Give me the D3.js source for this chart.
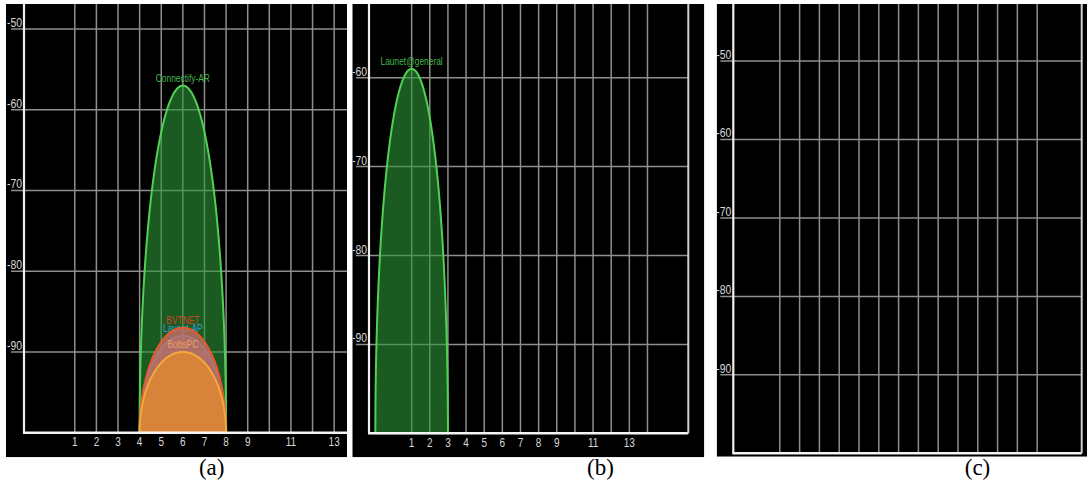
<!DOCTYPE html>
<html><head><meta charset="utf-8">
<script src="https://cdn.jsdelivr.net/npm/d3@7"></script>
<style>
html,body{margin:0;padding:0;background:#fff;}
svg{display:block;}
</style></head>
<body>
<svg id="c" width="1087" height="491"></svg>
<script>
// ---------- data ----------
const gridChannels = [1,2,3,4,5,6,7,8,9,10,11,12,13,14];
const xTickLabels = [1,2,3,4,5,6,7,8,9,11,13];
const yTicks = [-90,-80,-70,-60,-50];
const panelLabels = ["(a)","(b)","(c)"];
const channelSpan = 2; // +/- channels covered by a 20 MHz network

// panel (a) networks (drawn in this order)
const netA_names    = ["Connectify-AR","Launet-AP","BVTNET","BobsPC"];
const netA_channels = [6,6,6,6];
const netA_levels   = [-57,-88,-87,-90];
// panel (b) networks
const netB_names    = ["Launet@general"];
const netB_channels = [1];
const netB_levels   = [-59];
// panel (c): no networks
const netC_names = [], netC_channels = [], netC_levels = [];

// ---------- styles ----------
const netStyle = {
  "Connectify-AR": {stroke:"#4fd152", fill:"rgba(45,150,55,0.6)", text:"#43b84b"},
  "Launet-AP":     {stroke:"#35a0d8", fill:"rgba(120,120,180,0.5)", text:"#2fa2d6"},
  "BVTNET":        {stroke:"#e8582c", fill:"rgba(200,110,100,0.8)", text:"#d8432a"},
  "BobsPC":        {stroke:"#f5a83a", fill:"rgba(218,132,56,0.96)", text:"#eda06a"},
  "Launet@general":{stroke:"#4fd152", fill:"rgba(45,150,55,0.6)", text:"#43b84b"}
};

const xDomain = [-1.35, 16.25];
const panels = [
  {bg:[6,4,347,457.3], xr:[24,404.4], ydom:[-100,-50], yr:[432.7,29], xLabels:true, border:false,
   names:netA_names, chans:netA_channels, levels:netA_levels, label:[211.7,475]},
  {bg:[352.3,4,704.3,457.3], xr:[369,688.3], ydom:[-100,-60], yr:[433.3,77.7], xLabels:true, border:true,
   names:netB_names, chans:netB_channels, levels:netB_levels, label:[600.5,475]},
  {bg:[716.7,4,1087,456.7], xr:[733.3,1081.7], ydom:[-100,-50], yr:[453.3,61], xLabels:false, border:true,
   names:netC_names, chans:netC_channels, levels:netC_levels, label:[977.5,475]}
];

const svg = d3.select("#c");
const sansFont = "'Liberation Sans',Arial,sans-serif";
const narrow = 0.8;

function narrowText(sel, x, y, size, color, anchor, txt){
  return sel.append("text")
    .attr("transform",`translate(${x},${y}) scale(${narrow},1)`)
    .attr("text-anchor",anchor).attr("font-family",sansFont).attr("font-size",size)
    .attr("fill",color).text(txt);
}

panels.forEach((p,pi)=>{
  const [x0,y0,x1,y1] = p.bg;
  const clipId = "clip"+pi;
  svg.append("clipPath").attr("id",clipId).append("rect")
     .attr("x",x0).attr("y",y0).attr("width",x1-x0).attr("height",y1-y0);
  const g = svg.append("g").attr("clip-path",`url(#${clipId})`);
  g.append("rect").attr("x",x0).attr("y",y0).attr("width",x1-x0).attr("height",y1-y0).attr("fill","#000");

  const xs = d3.scaleLinear().domain(xDomain).range(p.xr);
  const ys = d3.scaleLinear().domain(p.ydom).range(p.yr);
  const axisX = p.xr[0], axisY = ys(-100);
  const rightX = Math.min(p.xr[1], x1);

  // horizontal gridlines
  g.selectAll(".hg").data(yTicks).enter().append("line")
    .attr("x1",axisX-13).attr("x2",rightX).attr("y1",d=>ys(d)).attr("y2",d=>ys(d))
    .attr("stroke","#8e8e8e").attr("stroke-width",1.5);
  // vertical gridlines
  g.selectAll(".vg").data(gridChannels).enter().append("line")
    .attr("x1",d=>xs(d)).attr("x2",d=>xs(d)).attr("y1",y0).attr("y2",axisY)
    .attr("stroke","#8e8e8e").attr("stroke-width",1.5);

  // networks
  const line = d3.line().x(d=>d[0]).y(d=>d[1]);
  p.names.forEach((nm,i)=>{
    const c = p.chans[i], lv = p.levels[i], st = netStyle[nm];
    const pts = d3.range(0,121).map(k=>{
      const t = Math.PI*k/120;
      return [xs(c - channelSpan*Math.cos(t)), ys(-100 + (lv+100)*Math.sin(t))];
    });
    g.append("path").attr("d",line(pts)+"Z").attr("fill",st.fill)
      .attr("stroke",st.stroke).attr("stroke-width",2);
    narrowText(g, xs(c), ys(lv)-3.5, 10.5, st.text, "middle", nm);
  });

  // y tick labels
  yTicks.filter(d=>ys(d)>y0+6).forEach(d=>{
    narrowText(g, axisX-2, ys(d)-2, 13, "#d8d8d8", "end", d);
  });

  // x tick labels
  if(p.xLabels){
    xTickLabels.forEach(d=>{
      narrowText(g, xs(d), axisY+13.5, 12.5, "#d8d8d8", "middle", d);
    });
  }

  // axes
  g.append("line").attr("x1",axisX).attr("x2",axisX).attr("y1",y0).attr("y2",axisY)
    .attr("stroke","#f0f0f0").attr("stroke-width",2.2);
  g.append("line").attr("x1",axisX-1).attr("x2",rightX).attr("y1",axisY).attr("y2",axisY)
    .attr("stroke","#f4f4f4").attr("stroke-width",2.5);
  if(p.border){
    g.append("line").attr("x1",rightX).attr("x2",rightX).attr("y1",y0).attr("y2",axisY)
      .attr("stroke","#d0d0d0").attr("stroke-width",2);
  }

  // caption
  svg.append("text").attr("x",p.label[0]).attr("y",p.label[1]).attr("text-anchor","middle")
    .attr("font-family","'Liberation Serif','Times New Roman',serif").attr("font-size",23)
    .attr("fill","#000").text(panelLabels[pi]);
});
</script>
</body></html>
